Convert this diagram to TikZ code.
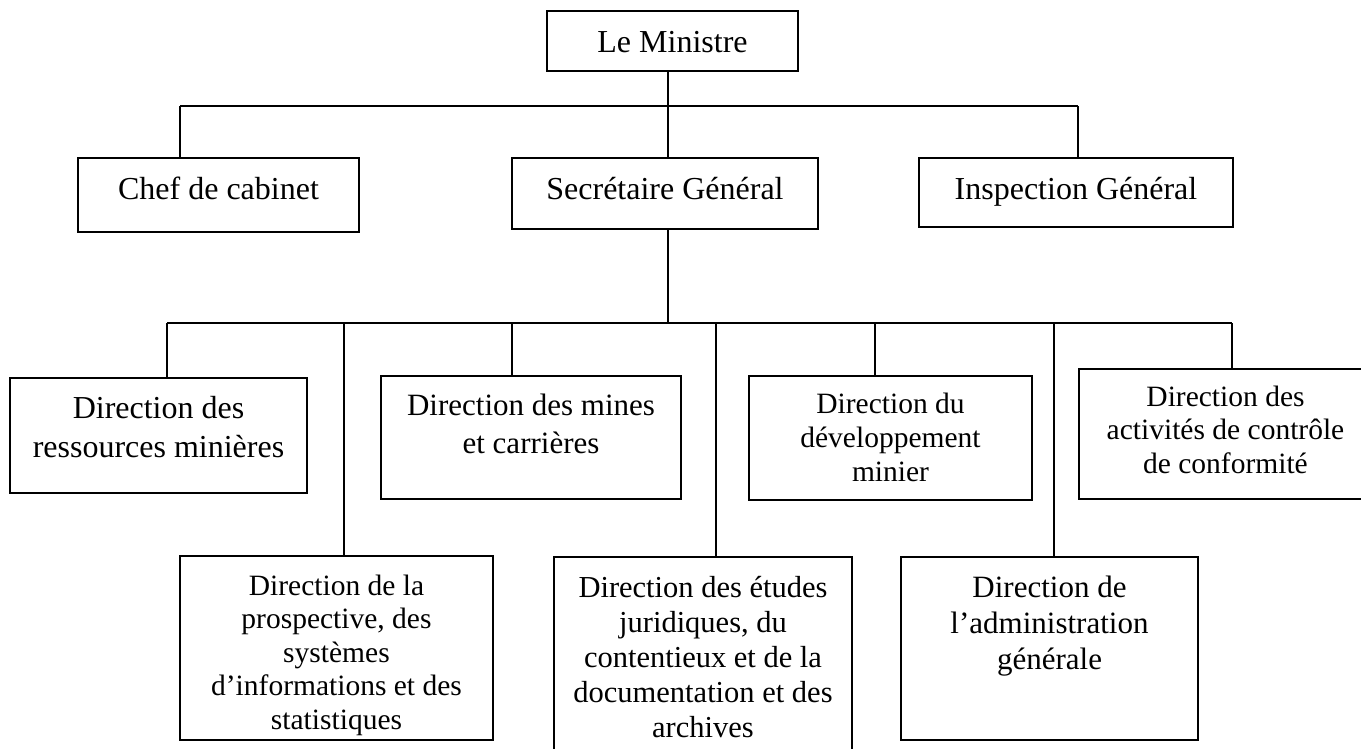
\documentclass[tikz,border=0pt]{standalone}
\usepackage{fontspec}
\setmainfont{Liberation Serif}
\newcommand\mlines[1]{\begin{tabular}[t]{@{}c@{}}#1\end{tabular}}
\newcommand\fs[2]{\fontsize{#1}{#2}\selectfont}
\tikzset{
  box/.style={draw, line width=2pt, rectangle, inner sep=0pt},
  conn/.style={line width=1.8pt},
  txt/.style={anchor=base, inner sep=0pt},
}
\begin{document}
\begin{tikzpicture}[x=1pt,y=-1pt]
\useasboundingbox (0,0) rectangle (1361,748);
\clip (0,0) rectangle (1361,748);
\fill[white] (0,0) rectangle (1361,748);

% boxes
\node[box, minimum width=251pt, minimum height=60pt] (min) at (672.5,41) {};
\node[box, minimum width=281pt, minimum height=74pt] (chef) at (218.5,195) {};
\node[box, minimum width=306pt, minimum height=71pt] (sg) at (665,193.5) {};
\node[box, minimum width=314pt, minimum height=69pt] (insp) at (1076,192.5) {};

\node[box, minimum width=297pt, minimum height=115pt] (drm) at (158.5,435.5) {};
\node[box, minimum width=300pt, minimum height=123pt] (mines) at (531,437.5) {};
\node[box, minimum width=283pt, minimum height=124pt] (dev) at (890.5,438) {};
\node[box, minimum width=293pt, minimum height=130pt] (act) at (1225.5,434) {};

\node[box, minimum width=313pt, minimum height=184pt] (prosp) at (336.5,648) {};
\node[box, minimum width=298pt, minimum height=203pt] (etud) at (703,658.5) {};
\node[box, minimum width=297pt, minimum height=183pt] (admin) at (1049.5,648.5) {};

% texts
\node[txt, font=\fs{32}{38}] at (672.5,52) {Le Ministre};
\node[txt, font=\fs{32}{38}] at (218.5,199) {Chef de cabinet};
\node[txt, font=\fs{32}{38}] at (665,199) {Secrétaire Général};
\node[txt, font=\fs{32}{38}] at (1076,199) {Inspection Général};

\node[txt, font=\fs{32}{39}] at (158.5,418) {\mlines{Direction des\\ressources minières}};
\node[txt, font=\fs{31}{38}] at (531,415) {\mlines{Direction des mines\\et carrières}};
\node[txt, font=\fs{29.5}{34}] at (890.5,413) {\mlines{Direction du\\développement\\minier}};
\node[txt, font=\fs{29.5}{33.5}] at (1225.5,406) {\mlines{Direction des\\activités de contrôle\\de conformité}};

\node[txt, font=\fs{29.5}{33.5}] at (336.5,595) {\mlines{Direction de la\\prospective, des\\systèmes\\d’informations et des\\statistiques}};
\node[txt, font=\fs{30.5}{35}] at (703,597) {\mlines{Direction des études\\juridiques, du\\contentieux et de la\\documentation et des\\archives}};
\node[txt, font=\fs{31}{36}] at (1049.5,597) {\mlines{Direction de\\l’administration\\générale}};

% first level connectors
\coordinate (j0) at (668,106);
\coordinate (j1) at (180,106);
\coordinate (j3) at (1078,106);
\draw[conn] (j0 |- min.south) -- (j0);
\draw[conn] (j1) -- (j3);
\draw[conn] (j1) -- (j1 |- chef.north);
\draw[conn] (j0) -- (j0 |- sg.north);
\draw[conn] (j3) -- (j3 |- insp.north);

% second level connectors
\coordinate (k0) at (668,323);
\coordinate (k1) at (167,323);
\coordinate (k2) at (344,323);
\coordinate (k3) at (512,323);
\coordinate (k4) at (716,323);
\coordinate (k5) at (875,323);
\coordinate (k6) at (1054,323);
\coordinate (k7) at (1232,323);
\draw[conn] (k0 |- sg.south) -- (k0);
\draw[conn] (k1) -- (k7);
\draw[conn] (k1) -- (k1 |- drm.north);
\draw[conn] (k2) -- (k2 |- prosp.north);
\draw[conn] (k3) -- (k3 |- mines.north);
\draw[conn] (k4) -- (k4 |- etud.north);
\draw[conn] (k5) -- (k5 |- dev.north);
\draw[conn] (k6) -- (k6 |- admin.north);
\draw[conn] (k7) -- (k7 |- act.north);
\end{tikzpicture}
\end{document}
